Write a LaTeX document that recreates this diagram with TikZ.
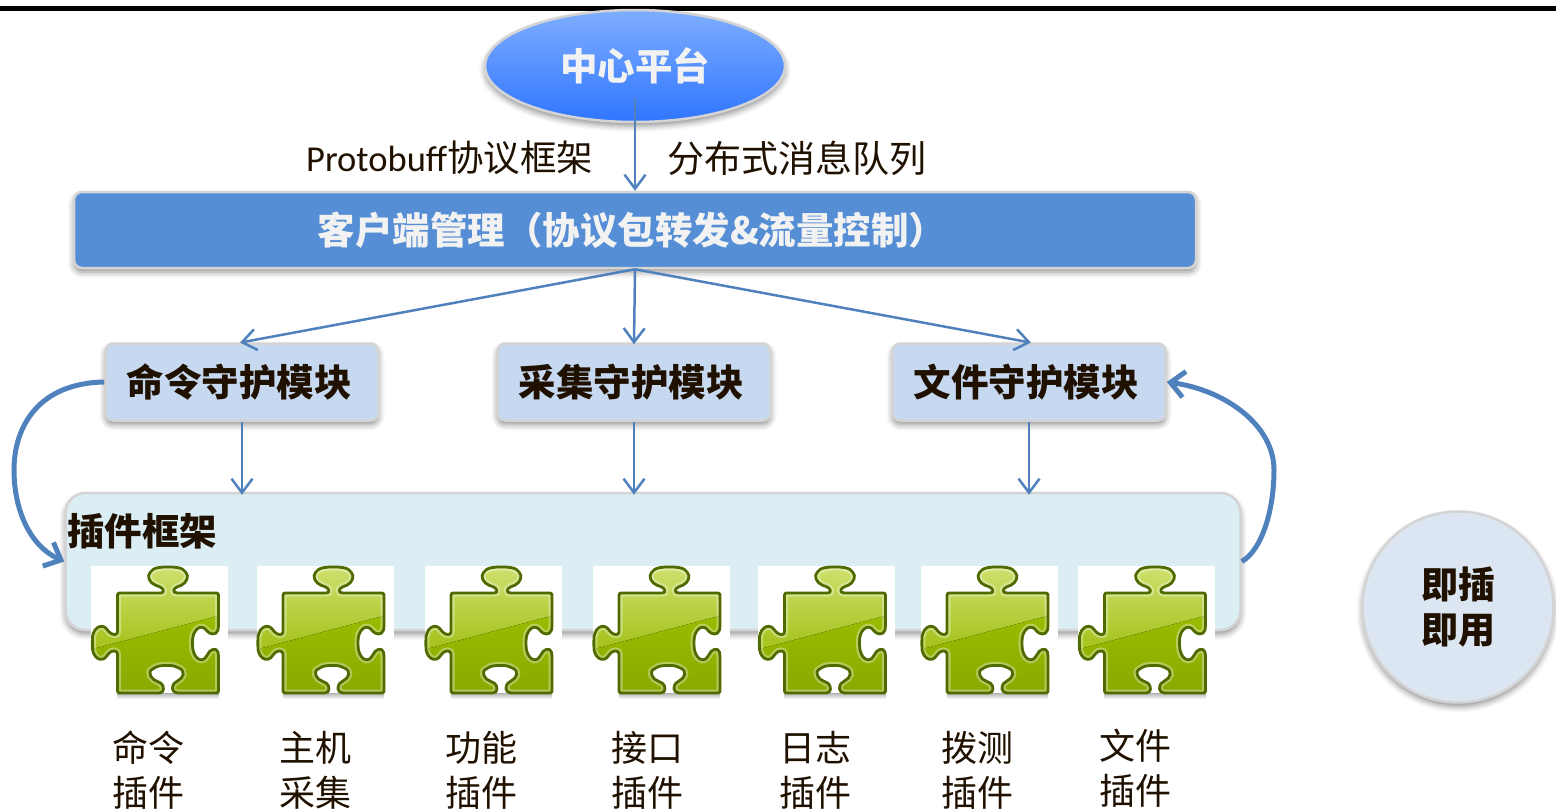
\documentclass[tikz,border=0pt]{standalone}
\usepackage{fontspec}
\setmainfont{Carlito}
\newfontfamily\cjk{Noto Sans CJK SC}
\usetikzlibrary{shapes.geometric,arrows.meta,shadows.blur}

\definecolor{linkblue}{HTML}{4F81BD}
\definecolor{manblue}{HTML}{558ED5}
\definecolor{modblue}{HTML}{C6D9F1}
\definecolor{frameblue}{HTML}{DBEEF4}
\definecolor{bubbleblue}{HTML}{DCE6F2}
\definecolor{inkbrown}{HTML}{1F1000}
\definecolor{edgegrey}{HTML}{D4D4D4}
\definecolor{pieceedge}{HTML}{4F6B00}
\definecolor{skytop}{HTML}{7FAEFF}
\definecolor{skybot}{HTML}{2F75FF}
\definecolor{pieceup}{HTML}{CFE070}
\definecolor{piecemid}{HTML}{A2C014}
\definecolor{piecelow}{HTML}{9ABC00}
\definecolor{piecebot}{HTML}{8AA800}

\newcommand{\modtext}[1]{\raisebox{2pt}{#1}\hspace*{6pt}}

\tikzstyle{softshadow} = [blur shadow={shadow xshift=0pt, shadow yshift=-4pt, shadow blur radius=6pt, shadow opacity=45}]
\tikzstyle{platform} = [ellipse, draw=edgegrey, line width=2.5pt, top color=skytop, bottom color=skybot, minimum width=300pt, minimum height=112pt, inner sep=0pt, softshadow, text=white!95!black, font=\cjk\bfseries\fontsize{37.5}{44}\selectfont]
\tikzstyle{manager} = [rectangle, rounded corners=8pt, draw=edgegrey, line width=2.5pt, fill=manblue, minimum width=1122pt, minimum height=76pt, softshadow, text=white!95!black, font=\cjk\bfseries\fontsize{37.5}{44}\selectfont]
\tikzstyle{module} = [rectangle, rounded corners=8pt, draw=edgegrey, line width=2.5pt, fill=modblue, minimum width=273pt, minimum height=77pt, softshadow, text=inkbrown, font=\cjk\bfseries\fontsize{37.5}{44}\selectfont]
\tikzstyle{plugframe} = [rectangle, rounded corners=20pt, draw=edgegrey, line width=2.5pt, fill=frameblue, minimum width=1175pt, minimum height=137pt, softshadow]
\tikzstyle{frametitle} = [inner sep=0pt, text=inkbrown, font=\cjk\bfseries\fontsize{37.5}{44}\selectfont]
\tikzstyle{bubble} = [circle, draw=edgegrey, line width=2.5pt, fill=bubbleblue, minimum size=191pt, softshadow, align=center, text=inkbrown, font=\cjk\bfseries\fontsize{37}{45}\selectfont]
\tikzstyle{piecebox} = [rectangle, fill=white, minimum width=137pt, minimum height=130pt, inner sep=0pt]
\tikzstyle{plain} = [inner sep=0pt, text=inkbrown, font=\fontsize{36.5}{36}\selectfont]
\tikzstyle{caption} = [inner sep=0pt, align=center, text=inkbrown, font=\cjk\fontsize{36}{45}\selectfont]
\tikzstyle{line} = [draw=linkblue, line width=2.5pt, -{Straight Barb[length=14pt,width=21pt,line width=2.5pt]}]
\tikzstyle{swing} = [draw=linkblue, line width=5pt, -{Straight Barb[length=14pt,width=26pt,line width=5pt]}]

\tikzset{
  piecepath/.style={rounded corners=2pt, insert path={
      (-42,-38) -- (-1,-38) .. controls (6,-38) and (4,-43) .. (-2,-45)
      .. controls (-10,-48) and (-13,-55) .. (-8,-60) .. controls (-3,-65) and (20,-65) .. (25,-60)
      .. controls (30,-55) and (27,-48) .. (20,-45) .. controls (14,-43) and (12,-38) .. (20,-38)
      -- (59,-38) -- (59,-3) .. controls (57,5) and (50,3) .. (47,-1)
      .. controls (40,-7) and (33,0) .. (33,12) .. controls (33,25) and (40,32) .. (47,26)
      .. controls (50,18) and (57,16) .. (59,23) -- (59,62) -- (20,62)
      .. controls (12,62) and (12,55) .. (16,51) .. controls (24,47) and (27,40) .. (17,36)
      .. controls (12,34) and (0,34) .. (-5,37) .. controls (-13,41) and (-8,49) .. (0,51)
      .. controls (5,55) and (5,62) .. (-2,62) -- (-42,62) -- (-42,25)
      .. controls (-42,19) and (-48,19) .. (-52,24) .. controls (-58,32) and (-68,27) .. (-67,12)
      .. controls (-68,-3) and (-58,-8) .. (-52,-1) .. controls (-48,4) and (-42,5) .. (-42,-1) -- cycle}},
  pics/puzzle/.style={code={
    \shade[top color=black!30, bottom color=white] (-42,62) rectangle (59,68);
    \path[piecepath, top color=piecelow, bottom color=piecebot];
    \begin{scope}
      \clip[piecepath];
      \fill[top color=pieceup, bottom color=piecemid] (-70,-66) rectangle (62,24);
      \fill[top color=piecelow, bottom color=piecebot] (-70,19) -- (62,-16) -- (62,64) -- (-70,64) -- cycle;
      \draw[white, opacity=.35, line width=7pt, piecepath];
    \end{scope}
    \draw[pieceedge, line width=2.8pt, line join=round, piecepath];
  }}
}

\begin{document}
\begin{tikzpicture}[x=1pt,y=-1pt]
\useasboundingbox (0,0) rectangle (1556,811);

\fill[black] (0,5.5) rectangle (1556,10.5);

\node [platform] (center) at (635,66) {中心平台};
\node [manager, below of=center, node distance=164pt] (client) {客户端管理（协议包转发\&流量控制）\hspace*{6pt}};

\node [module] (command) at (242,382) {\modtext{命令守护模块}};
\node [module, right of=command, node distance=392pt] (collect) {\modtext{采集守护模块}};
\node [module, right of=collect, node distance=395pt] (file) {\modtext{文件守护模块}};

\node [plugframe] (frame) at (653,561.5) {};
\node [frametitle, anchor=west] (title) at (67,531) {插件框架};

\node [plain, anchor=west] (proto) at (306,158) {Protobuff{\cjk 协议框架}};
\node [plain, anchor=west] (queue) at (667,158) {\cjk\fontsize{37}{37}\selectfont 分布式消息队列};

% the seven pieces
\node [piecebox] (box1) at (159.5,631) {};
\node [piecebox, right of=box1, node distance=165.5pt] (box2) {};
\node [piecebox, right of=box2, node distance=168pt] (box3) {};
\node [piecebox, right of=box3, node distance=168pt] (box4) {};
\node [piecebox, right of=box4, node distance=165.5pt] (box5) {};
\node [piecebox, right of=box5, node distance=162.5pt] (box6) {};
\node [piecebox, right of=box6, node distance=157.5pt] (box7) {};

\pic at (box1) {puzzle};
\pic at (box2) {puzzle};
\pic at (box3) {puzzle};
\pic at (box4) {puzzle};
\pic at (box5) {puzzle};
\pic at (box6) {puzzle};
\pic at (box7) {puzzle};

\node [caption] (cap1) at (148,770) {命令\\插件};
\node [caption] (cap2) at (315,770) {主机\\采集};
\node [caption] (cap3) at (481,770) {功能\\插件};
\node [caption] (cap4) at (647,770) {接口\\插件};
\node [caption] (cap5) at (815,770) {日志\\插件};
\node [caption] (cap6) at (977,770) {拨测\\插件};
\node [caption] (cap7) at (1135,768) {文件\\插件};

\node [bubble] (plugplay) at (1458,607) {\raisebox{3pt}{即插}\\\raisebox{3pt}{即用}};

% links between the layers
\path [line] (center.south) ++(0,-25) -- (client.north);
\path [line, shorten >=-2pt] (client.south) -- (command.north);
\path [line, shorten >=-2pt] (client.south) -- (collect.north);
\path [line, shorten >=-2pt] (client.south) -- (file.north);

\path [line, shorten >=-3pt] (command.south) -- (command.south |- frame.north);
\path [line, shorten >=-3pt] (collect.south) -- (collect.south |- frame.north);
\path [line, shorten >=-3pt] (file.south) -- (file.south |- frame.north);

% hot plug loop
\path [swing] (command.west) .. controls (40,383) and (14,425) .. (14,470) .. controls (14,510) and (30,546) .. (frame.west);
\path [swing] (frame.east) .. controls (1262,550) and (1274,510) .. (1274,470) .. controls (1274,425) and (1225,390) .. (file.east);

\end{tikzpicture}
\end{document}
